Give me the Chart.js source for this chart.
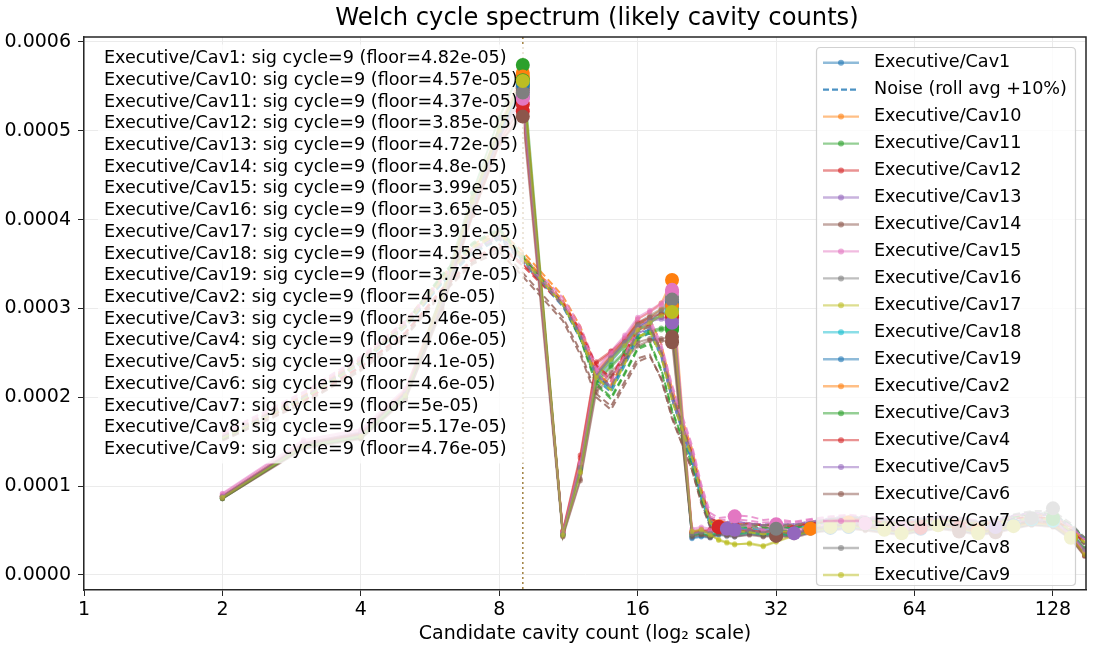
<!DOCTYPE html>
<html>
<head>
<meta charset="utf-8">
<script src="https://cdn.jsdelivr.net/npm/chart.js@4.4.0/dist/chart.umd.min.js"></script>
<style>
  html, body { margin: 0; padding: 0; background: #fff; }
</style>
</head>
<body>
<canvas id="mycanvas" width="1098" height="649"></canvas>
<script>
// candidate cavity counts (x) shared by every series
var cycles = [2,3,4,5,6,7,8,9, 11,12,13,14,15,16,17,18,19, 21,22,23,24,25,26, 28,30,32, 35,38,42,46,50, 55,60,66,72,80, 88,96,105,115,128, 140,150];
var xTicks = [1,2,4,8,16,32,64,128];
var yTicks = [0,0.0001,0.0002,0.0003,0.0004,0.0005,0.0006];

var names = ['Executive/Cav1','Executive/Cav10','Executive/Cav11','Executive/Cav12','Executive/Cav13','Executive/Cav14','Executive/Cav15','Executive/Cav16','Executive/Cav17','Executive/Cav18','Executive/Cav19','Executive/Cav2','Executive/Cav3','Executive/Cav4','Executive/Cav5','Executive/Cav6','Executive/Cav7','Executive/Cav8','Executive/Cav9'];
var sigCycle = 9;
var floors = ['4.82e-05','4.57e-05','4.37e-05','3.85e-05','4.72e-05','4.8e-05','3.99e-05','3.65e-05','3.91e-05','4.55e-05','3.77e-05','4.6e-05','5.46e-05','4.06e-05','4.1e-05','4.6e-05','5e-05','5.17e-05','4.76e-05'];

// spectrum power, units of 1e-5
var cav1  = [8.7,14.6,15.6,20.2,30.5,41.5,49.5,55.6, 4.5,11.8,22.0,24.0,25.8,27.6,28.4,29.2,30.5, 4.2,4.4,4.3,4.6,4.8,4.5, 4.9,4.6,4.8, 4.4,5.0,5.3,5.6,5.4, 5.1,4.8,5.2,5.7,5.3, 4.8,5.1,5.6,6.0,5.8, 4.3,2.4];
var cav10 = [8.9,14.9,16.0,20.8,31.5,42.5,50.5,56.5, 4.8,12.5,22.8,24.8,26.5,28.8,29.6,30.6,33.2, 4.9,5.1,4.8,5.5,5.2,5.0, 5.3,4.9,5.1, 4.7,5.3,5.6,5.9,5.7, 5.4,5.1,5.5,6.0,5.6, 5.1,5.4,5.9,6.3,6.1, 4.6,2.7];
var cav11 = [8.6,14.4,15.5,20.0,31.8,43.0,51.5,57.4, 4.6,12.0,21.8,23.6,25.2,26.8,27.5,27.8,27.9, 4.5,4.7,4.4,4.9,4.7,4.6, 5.0,4.7,4.6, 4.5,5.1,5.4,5.5,5.8, 5.2,4.9,5.3,5.8,5.4, 4.9,5.2,5.7,6.1,6.4, 4.8,2.9];
var cav12 = [8.8,14.7,15.9,20.6,30.2,40.5,48.5,52.2, 4.9,13.2,23.8,25.0,26.4,28.2,28.8,29.0,29.0, 4.7,4.9,5.0,5.4,5.0,4.8, 5.1,4.9,5.0, 4.6,5.0,5.5,5.7,5.4, 5.2,4.9,5.4,5.6,5.3, 4.7,5.0,5.5,5.9,5.7, 4.2,2.3];
var cav13 = [8.9,14.8,16.1,20.6,30.8,41.8,49.8,54.5, 4.7,12.3,22.6,24.6,26.2,28.0,28.6,29.0,28.7, 4.8,5.0,4.7,5.2,5.3,5.1, 5.2,4.9,5.3, 4.7,5.2,5.6,5.8,5.6, 5.3,5.0,5.5,5.8,5.5, 5.0,5.3,5.7,6.1,5.9, 4.4,2.6];
var cav14 = [8.6,14.3,15.4,19.8,30.0,41.0,49.2,54.8, 4.4,10.8,21.0,22.8,24.5,26.2,26.6,26.4,26.2, 4.4,4.6,4.3,4.7,4.5,4.4, 4.6,4.4,4.5, 4.3,4.8,5.1,5.3,5.1, 4.8,4.6,5.0,5.3,5.0, 4.6,4.8,5.3,5.7,5.5, 4.1,2.2];
var cav15 = [9.2,15.2,16.4,21.0,31.0,42.0,49.5,54.1, 4.8,12.6,23.2,25.2,27.0,29.0,29.8,30.6,32.1, 5.2,5.4,5.2,5.6,5.5,6.6, 5.2,5.2,5.7, 5.0,5.5,5.9,6.1,5.9, 5.6,5.3,5.7,6.1,5.8, 5.3,5.6,6.0,6.4,6.2, 4.7,2.8];
var cav16 = [8.8,14.6,15.8,20.4,30.6,41.6,49.8,55.0, 4.6,12.2,22.6,24.6,26.4,28.4,29.2,30.0,31.3, 4.7,4.9,4.8,5.1,5.0,4.9, 5.0,4.8,5.0, 4.6,5.1,5.5,5.8,5.6, 5.2,5.0,5.4,5.8,5.5, 5.0,5.3,5.8,6.2,6.0, 4.5,2.5];
var cav17 = [8.7,14.5,15.7,20.3,31.2,42.2,50.2,55.9, 4.6,11.5,22.4,24.4,26.0,27.8,28.6,29.4,29.8, 4.9,5.1,4.6,3.9,3.6,3.4, 3.6,3.3,3.8, 4.5,5.0,5.4,5.6,5.4, 5.1,4.8,5.2,5.6,5.3, 4.8,5.1,5.5,5.9,5.7, 4.3,2.4];
var cav18 = [8.7,14.5,15.6,20.2,30.4,41.4,49.6,55.3, 4.6,12.0,22.2,24.2,25.8,27.6,28.4,29.2,30.0, 4.4,4.6,4.5,4.8,4.7,4.6, 4.8,4.6,4.7, 4.5,5.1,5.5,5.7,5.9, 5.3,5.0,5.6,6.0,5.7, 5.2,5.5,5.9,6.3,6.1, 4.7,2.8];
var cav19 = [8.8,14.7,15.8,20.5,30.6,41.6,49.7,55.2, 4.6,12.1,22.4,24.4,26.0,27.8,28.6,29.6,30.6, 4.1,4.3,4.2,4.5,4.4,4.3, 4.6,4.4,4.5, 4.3,4.8,5.1,5.4,5.2, 4.9,4.6,5.0,5.4,5.1, 4.6,4.9,5.3,5.7,5.5, 4.1,2.3];
var cav2  = [8.9,14.8,15.9,20.7,31.0,42.0,50.0,56.1, 4.7,12.4,22.7,24.7,26.3,28.3,29.0,29.9,30.3, 4.8,5.0,4.9,5.2,5.1,4.9, 5.1,4.8,5.0, 4.6,5.2,5.5,5.8,5.6, 5.3,5.0,5.4,5.8,5.5, 5.0,5.3,5.8,6.2,6.0, 4.5,2.6];
var cav3  = [8.6,14.4,15.4,20.0,31.0,42.2,50.4,55.7, 4.5,11.9,21.6,23.4,25.0,26.6,27.3,27.6,27.6, 4.5,4.6,4.4,4.8,4.6,4.5, 4.8,4.5,4.7, 4.4,5.0,5.3,5.5,5.4, 5.1,4.8,5.2,5.6,5.3, 4.8,5.1,5.6,6.0,6.3, 4.9,3.0];
var cav4  = [8.8,14.7,15.9,20.5,30.4,40.8,48.8,53.0, 5.0,13.5,24.0,25.2,26.6,28.4,29.0,29.4,29.2, 4.8,5.0,5.1,5.4,5.1,4.9, 5.0,4.8,5.0, 4.6,5.0,5.4,5.6,5.4, 5.1,4.8,5.3,5.6,5.3, 4.8,5.0,5.5,5.9,5.7, 4.2,2.2];
var cav5  = [8.9,14.8,16.0,20.5,30.8,41.6,49.4,53.8, 4.7,12.4,22.6,24.6,26.2,28.0,28.6,28.8,28.4, 4.7,4.9,4.8,5.1,5.2,5.3, 5.0,4.8,5.0, 4.7,5.2,5.6,5.8,5.6, 5.3,5.0,5.5,5.9,5.6, 5.1,5.4,5.8,6.2,6.0, 4.6,2.7];
var cav6  = [8.6,14.2,15.3,19.7,29.8,40.5,48.6,51.6, 4.3,10.6,20.6,22.4,24.2,25.8,26.4,26.6,26.8, 4.3,4.5,4.2,4.6,4.4,4.3, 4.5,4.3,4.4, 4.2,4.7,5.0,5.2,5.0, 4.7,4.5,4.9,5.2,4.9, 4.5,4.7,5.2,5.6,5.4, 4.0,2.1];
var cav7  = [9.1,15.0,16.2,20.8,30.6,41.4,49.0,53.6, 4.8,12.6,23.0,25.0,26.8,28.8,29.6,30.4,31.8, 5.0,5.2,5.0,5.4,5.3,5.5, 5.6,5.0,5.5, 4.9,5.4,5.8,6.0,5.8, 5.5,5.2,5.6,6.0,5.7, 5.2,5.5,5.9,6.3,6.1, 4.6,2.7];
var cav8  = [8.8,14.6,15.7,20.4,30.4,41.2,49.2,54.3, 4.6,12.1,22.4,24.4,26.2,28.2,29.0,29.8,31.0, 4.6,4.8,4.7,5.0,4.9,4.8, 4.9,4.7,5.2, 4.6,5.1,5.5,5.8,5.6, 5.3,5.1,5.5,5.9,5.6, 5.2,5.5,6.0,6.4,7.5, 4.8,2.9];
var cav9  = [8.7,14.5,15.6,20.2,31.0,42.0,50.0,55.6, 4.5,11.6,22.2,24.2,25.8,27.6,28.4,29.2,29.6, 4.9,5.1,4.5,4.0,3.7,3.5, 3.5,3.2,3.7, 4.4,4.9,5.3,5.5,5.3, 5.0,4.7,5.1,5.5,5.2, 4.7,5.0,5.4,5.8,5.6, 4.2,2.3];

// noise floor (rolling avg +10%), units of 1e-5
var noise1  = [15.4,19.8,23.8,27.9,32.8,36.2,37.8,35.2, 30.2,26.6,22.0,20.6,23.6,26.6,27.2,24.6,19.8, 13.0,8.8,5.6,5.1,5.0,5.1, 5.3,5.2,5.3, 5.2,5.6,5.9,6.2,6.0, 5.8,5.7,6.0,6.2,5.9, 5.6,5.9,6.3,6.6,6.3, 5.0,3.7];
var noise10 = [15.7,20.2,24.4,28.6,33.6,37.2,38.8,36.4, 31.4,28.0,23.2,21.8,25.0,28.2,28.8,26.0,21.0, 14.2,9.8,6.4,5.8,5.8,5.8, 5.8,5.6,5.7, 5.6,6.0,6.3,6.6,6.4, 6.2,6.0,6.3,6.6,6.3, 5.9,6.2,6.6,6.9,6.7, 5.5,4.0];
var noise11 = [15.3,19.9,24.0,28.4,33.8,37.4,39.0,36.0, 30.6,26.8,21.6,20.0,22.8,25.6,26.2,23.2,18.6, 12.4,8.6,6.0,5.6,5.5,5.5, 5.6,5.4,5.3, 5.5,5.8,6.2,6.4,6.5, 6.1,5.9,6.2,6.4,6.2, 5.8,6.1,6.6,7.0,6.9, 5.6,4.1];
var noise12 = [15.5,19.6,23.4,27.2,32.0,35.4,37.0,34.8, 30.4,27.4,23.4,22.0,24.8,27.6,28.0,25.0,20.2, 13.6,9.2,6.4,5.9,5.8,5.7, 5.8,5.6,5.6, 5.5,5.8,6.2,6.3,6.2, 6.0,5.8,6.1,6.2,6.0, 5.7,5.9,6.3,6.6,6.3, 5.1,3.6];
var noise13 = [15.6,20.1,24.2,28.2,33.2,36.8,38.4,35.8, 30.8,27.2,22.6,21.4,24.4,27.4,28.0,25.0,20.0, 13.4,9.4,6.4,5.9,5.9,5.9, 5.8,5.7,5.8, 5.7,6.0,6.3,6.5,6.4, 6.2,6.0,6.3,6.5,6.3, 6.0,6.2,6.6,6.9,6.6, 5.4,4.0];
var noise14 = [15.2,19.4,23.2,27.0,31.8,35.2,36.8,34.0, 29.0,25.2,20.4,19.0,21.8,24.4,24.8,22.0,17.6, 11.8,8.2,5.6,5.2,5.1,5.1, 5.1,5.0,5.0, 5.0,5.3,5.7,5.9,5.7, 5.5,5.3,5.6,5.8,5.6, 5.3,5.5,5.9,6.3,6.0, 4.9,3.5];
var noise15 = [16.0,20.6,24.6,28.6,33.4,36.8,38.2,35.8, 31.2,28.0,23.6,22.2,25.2,28.2,28.8,26.0,21.4, 14.6,10.2,7.0,6.4,6.5,6.7, 6.6,6.2,6.3, 6.0,6.3,6.6,6.8,6.6, 6.4,6.1,6.4,6.7,6.5, 6.1,6.3,6.7,7.0,6.8, 5.6,4.1];
var noise16 = [15.5,20.0,24.0,28.0,33.0,36.6,38.2,35.6, 30.6,27.2,22.6,21.2,24.4,27.6,28.2,25.4,20.6, 13.8,9.4,6.2,5.7,5.7,5.6, 5.6,5.5,5.6, 5.5,5.8,6.2,6.4,6.3, 6.1,5.9,6.2,6.4,6.2, 5.9,6.1,6.6,6.9,6.6, 5.4,3.9];
var noise17 = [15.4,19.9,24.0,28.2,33.4,37.0,38.6,35.8, 30.6,26.8,22.2,20.8,23.8,26.8,27.4,24.6,19.8, 13.2,9.2,5.9,5.5,5.3,5.1, 4.9,4.7,4.9, 5.1,5.5,5.9,6.1,6.0, 5.8,5.6,5.9,6.1,5.9, 5.6,5.8,6.2,6.5,6.3, 5.1,3.7];
var noise18 = [15.4,19.8,23.8,27.9,32.8,36.4,38.0,35.4, 30.4,26.8,22.2,20.8,23.8,26.8,27.4,24.6,19.8, 12.8,8.6,5.6,5.2,5.2,5.2, 5.2,5.1,5.2, 5.3,5.8,6.2,6.5,6.5, 6.2,6.0,6.3,6.6,6.4, 6.0,6.3,6.7,7.0,6.8, 5.6,4.1];
var noise19 = [15.5,19.9,24.0,28.0,33.0,36.5,38.2,35.5, 30.5,27.0,22.4,21.0,24.0,27.0,27.7,25.0,20.2, 12.6,8.4,5.4,4.9,4.8,4.8, 5.0,4.9,5.0, 4.9,5.3,5.7,5.9,5.8, 5.5,5.3,5.6,5.9,5.6, 5.3,5.6,6.0,6.4,6.1, 4.9,3.5];
var noise2  = [15.6,20.1,24.2,28.3,33.3,36.9,38.5,36.0, 30.9,27.4,22.8,21.4,24.4,27.4,28.0,25.2,20.4, 13.6,9.4,6.2,5.7,5.7,5.7, 5.7,5.6,5.7, 5.6,5.9,6.2,6.4,6.3, 6.1,5.9,6.2,6.4,6.2, 5.9,6.1,6.6,6.9,6.6, 5.4,3.9];
var noise3  = [15.3,19.8,24.0,28.2,33.6,37.2,38.8,35.8, 30.4,26.6,21.4,19.8,22.6,25.4,26.0,23.0,18.4, 12.2,8.4,5.8,5.4,5.3,5.3, 5.4,5.3,5.3, 5.3,5.7,6.0,6.2,6.1, 5.9,5.7,6.0,6.2,6.0, 5.7,6.0,6.5,6.9,6.8, 5.6,4.2];
var noise4  = [15.5,19.6,23.5,27.3,32.2,35.6,37.2,35.0, 30.6,27.6,23.6,22.2,25.0,27.8,28.2,25.2,20.4, 13.6,9.4,6.4,5.9,5.9,5.8, 5.7,5.6,5.6, 5.5,5.8,6.1,6.3,6.2, 5.9,5.8,6.1,6.2,6.0, 5.6,5.9,6.3,6.6,6.3, 5.1,3.6];
var noise5  = [15.6,20.0,24.1,28.1,33.1,36.6,38.0,35.4, 30.4,27.0,22.6,21.2,24.2,27.2,27.8,24.8,19.8, 13.2,9.2,6.4,6.0,6.0,6.0, 5.8,5.6,5.7, 5.7,6.0,6.4,6.6,6.4, 6.2,6.0,6.3,6.6,6.3, 6.0,6.2,6.7,7.0,6.7, 5.5,4.0];
var noise6  = [15.1,19.3,23.0,26.8,31.6,35.0,36.4,33.6, 28.6,24.8,20.0,18.6,21.4,24.0,24.6,22.2,17.8, 11.8,8.0,5.4,5.0,4.9,4.9, 4.9,4.8,4.8, 4.8,5.2,5.5,5.7,5.6, 5.4,5.2,5.5,5.7,5.5, 5.2,5.4,5.8,6.1,5.9, 4.8,3.4];
var noise7  = [15.8,20.4,24.4,28.4,33.2,36.6,38.0,35.4, 30.8,27.6,23.2,21.8,24.8,27.8,28.4,25.6,21.0, 14.2,9.8,6.6,6.2,6.2,6.3, 6.1,5.9,6.0, 5.9,6.2,6.5,6.7,6.5, 6.3,6.1,6.4,6.6,6.4, 6.1,6.3,6.7,7.0,6.7, 5.5,4.0];
var noise8  = [15.5,19.9,24.0,28.0,33.0,36.4,37.9,35.3, 30.4,27.0,22.4,21.0,24.2,27.4,28.0,25.2,20.4, 13.4,9.2,6.1,5.6,5.6,5.6, 5.7,5.6,5.7, 5.6,5.9,6.3,6.5,6.4, 6.2,6.0,6.3,6.6,6.3, 6.0,6.3,6.8,7.2,7.2, 5.8,4.2];
var noise9  = [15.4,19.8,23.9,28.0,33.2,36.8,38.4,35.6, 30.4,26.8,22.2,20.8,23.8,26.8,27.4,24.6,19.6, 13.2,9.2,5.8,5.4,5.2,5.0, 4.8,4.6,4.8, 5.0,5.4,5.8,6.0,5.9, 5.7,5.5,5.8,6.0,5.8, 5.5,5.7,6.1,6.4,6.2, 5.0,3.6];

// cycles flagged as likely (big markers)
var sig1  = [9,19,42,66,105];
var sig10 = [9,19,24,46,88];
var sig11 = [9,19,50,128];
var sig12 = [9,19,24,80];
var sig13 = [9,19,26,72];
var sig14 = [9,19,32,96];
var sig15 = [9,19,26,32,60];
var sig16 = [9,19,32,115];
var sig17 = [9,19,42,55,72,105];
var sig18 = [9,19,115,128];
var sig19 = [9,19,46];
var sig2  = [9,19,38,88];
var sig3  = [9,19,128];
var sig4  = [9,19,24,66];
var sig5  = [9,19,25,35,96];
var sig6  = [9,19,32,80];
var sig7  = [9,19,32,50];
var sig8  = [9,19,32,115,128];
var sig9  = [9,19,46,60,88,140];

var spectra = [cav1,cav10,cav11,cav12,cav13,cav14,cav15,cav16,cav17,cav18,cav19,cav2,cav3,cav4,cav5,cav6,cav7,cav8,cav9];
var noises  = [noise1,noise10,noise11,noise12,noise13,noise14,noise15,noise16,noise17,noise18,noise19,noise2,noise3,noise4,noise5,noise6,noise7,noise8,noise9];
var sigs    = [sig1,sig10,sig11,sig12,sig13,sig14,sig15,sig16,sig17,sig18,sig19,sig2,sig3,sig4,sig5,sig6,sig7,sig8,sig9];
var UNIT = 1e-5;

var palette = ['#1f77b4','#ff7f0e','#2ca02c','#d62728','#9467bd','#8c564b','#e377c2','#7f7f7f','#bcbd22','#17becf'];
var FONT = "'DejaVu Sans', sans-serif";

function rgba(hex, a) {
    var n = parseInt(hex.slice(1), 16);
    return 'rgba(' + (n >> 16) + ',' + ((n >> 8) & 255) + ',' + (n & 255) + ',' + a + ')';
}

var datasets = [];
names.forEach(function (name, k) {
    var col = palette[k % 10];
    datasets.push({
        label: name,
        data: cycles.map(function (c, i) { return {x: c, y: spectra[k][i] * UNIT}; }),
        borderColor: rgba(col, 0.5),
        backgroundColor: rgba(col, 0.5),
        borderWidth: 2,
        pointRadius: 2.6,
        pointBorderWidth: 0,
        pointBackgroundColor: rgba(col, 0.55),
        tension: 0,
        order: 1000 - 2 * k
    });
    datasets.push({
        label: 'Noise (roll avg +10%)',
        isNoise: true,
        data: cycles.map(function (c, i) { return {x: c, y: noises[k][i] * UNIT}; }),
        borderColor: rgba(col, 0.75),
        borderDash: [7, 4],
        borderWidth: 2,
        pointRadius: 0,
        tension: 0,
        order: 999 - 2 * k
    });
});
names.forEach(function (name, k) {
    var col = palette[k % 10];
    datasets.push({
        label: name + ' likely',
        isSig: true,
        showLine: false,
        data: sigs[k].map(function (c) { return {x: c, y: spectra[k][cycles.indexOf(c)] * UNIT}; }),
        pointRadius: 7,
        pointBorderWidth: 0,
        pointBackgroundColor: col,
        backgroundColor: col,
        borderColor: col,
        order: 100 - k
    });
});

function drawBox(chart) {
    var ctx = chart.ctx, a = chart.chartArea;
    var px = chart.scales.x.getPixelForValue(sigCycle);
    ctx.save();
    ctx.beginPath();
    ctx.rect(a.left, a.top, a.right - a.left, a.bottom - a.top);
    ctx.clip();
    ctx.strokeStyle = 'rgba(150,115,45,0.85)';
    ctx.lineWidth = 1.6;
    ctx.setLineDash([2, 3]);
    ctx.beginPath();
    ctx.moveTo(px, a.top);
    ctx.lineTo(px, a.bottom);
    ctx.stroke();
    ctx.setLineDash([]);

    ctx.font = '17.6px ' + FONT;
    var lines = names.map(function (n, k) { return n + ': sig cycle=' + sigCycle + ' (floor=' + floors[k] + ')'; });
    var w = 0;
    lines.forEach(function (l) { w = Math.max(w, ctx.measureText(l).width); });
    var x0 = 104, y0 = 58.5, lh = 21.72;
    ctx.fillStyle = 'rgba(255,255,255,0.8)';
    ctx.fillRect(x0 - 6, y0 - 14, w + 12, lh * (lines.length - 1) + 28);
    ctx.fillStyle = '#000';
    ctx.textAlign = 'left';
    ctx.textBaseline = 'middle';
    lines.forEach(function (l, i) { ctx.fillText(l, x0, y0 + i * lh); });
    ctx.restore();
}

function drawLegend(chart) {
    var ctx = chart.ctx;
    var items = [{label: names[0], col: palette[0], noise: false},
                 {label: 'Noise (roll avg +10%)', col: palette[0], noise: true}];
    for (var k = 1; k < names.length; k++) items.push({label: names[k], col: palette[k % 10], noise: false});
    var bx = 816.5, by = 47.5, bw = 259, bh = 538, r = 4;
    ctx.save();
    ctx.beginPath();
    ctx.moveTo(bx + r, by);
    ctx.lineTo(bx + bw - r, by); ctx.quadraticCurveTo(bx + bw, by, bx + bw, by + r);
    ctx.lineTo(bx + bw, by + bh - r); ctx.quadraticCurveTo(bx + bw, by + bh, bx + bw - r, by + bh);
    ctx.lineTo(bx + r, by + bh); ctx.quadraticCurveTo(bx, by + bh, bx, by + bh - r);
    ctx.lineTo(bx, by + r); ctx.quadraticCurveTo(bx, by, bx + r, by);
    ctx.closePath();
    ctx.fillStyle = 'rgba(255,255,255,0.8)';
    ctx.fill();
    ctx.strokeStyle = 'rgba(204,204,204,0.9)';
    ctx.lineWidth = 1.2;
    ctx.stroke();
    ctx.font = '17.6px ' + FONT;
    ctx.textAlign = 'left';
    ctx.textBaseline = 'middle';
    items.forEach(function (it, i) {
        var y = 62.7 + i * 26.96;
        ctx.beginPath();
        ctx.moveTo(823, y); ctx.lineTo(859, y);
        if (it.noise) {
            ctx.setLineDash([6, 3]);
            ctx.strokeStyle = rgba(it.col, 0.8);
        } else {
            ctx.setLineDash([]);
            ctx.strokeStyle = rgba(it.col, 0.5);
        }
        ctx.lineWidth = 2.4;
        ctx.stroke();
        ctx.setLineDash([]);
        if (!it.noise) {
            ctx.beginPath();
            ctx.arc(841, y, 3, 0, Math.PI * 2);
            ctx.fillStyle = rgba(it.col, 0.6);
            ctx.fill();
        }
        ctx.fillStyle = '#000';
        ctx.fillText(it.label, 874, y);
    });
    ctx.restore();
}

var overlay = {
    id: 'overlay',
    beforeDatasetsDraw: function (chart) { chart.$boxDone = false; },
    beforeDatasetDraw: function (chart, args) {
        var ds = chart.data.datasets[args.index];
        if (ds.isSig && !chart.$boxDone) {
            chart.$boxDone = true;
            drawBox(chart);
        }
    },
    afterDraw: function (chart) {
        var ctx = chart.ctx, a = chart.chartArea;
        ctx.save();
        // top and right spines
        ctx.strokeStyle = '#262626';
        ctx.lineWidth = 1.5;
        ctx.beginPath();
        ctx.moveTo(a.left, a.top); ctx.lineTo(a.right, a.top); ctx.lineTo(a.right, a.bottom);
        ctx.stroke();
        ctx.fillStyle = '#000';
        ctx.textAlign = 'center';
        ctx.textBaseline = 'middle';
        ctx.font = '24.2px ' + FONT;
        ctx.fillText('Welch cycle spectrum (likely cavity counts)', 597, 19);
        ctx.font = '19px ' + FONT;
        ctx.fillText('Candidate cavity count (log\u2082 scale)', (a.left + a.right) / 2, 634);
        ctx.restore();
        drawLegend(chart);
    }
};

Chart.defaults.font.family = FONT;
var ctx = document.getElementById('mycanvas');
var chart = new Chart(ctx, {
    type: 'line',
    data: {datasets: datasets},
    options: {
        responsive: false,
        animation: false,
        devicePixelRatio: 1,
        layout: {padding: {top: 37, right: 12, left: 0, bottom: 0}},
        plugins: {legend: {display: false}, tooltip: {enabled: false}, title: {display: false}},
        scales: {
            x: {
                type: 'logarithmic',
                min: 1,
                max: 151,
                afterBuildTicks: function (s) { s.ticks = xTicks.map(function (v) { return {value: v}; }); },
                afterFit: function (s) { s.height = 59; },
                ticks: {
                    callback: function (v) { return String(v); },
                    font: {size: 19, family: FONT},
                    color: '#000',
                    maxRotation: 0,
                    autoSkip: false,
                    padding: 3
                },
                grid: {color: '#ebebeb', lineWidth: 1, tickColor: '#262626', tickLength: 6},
                border: {color: '#262626', width: 1.5}
            },
            y: {
                type: 'linear',
                min: -0.0000169,
                max: 0.0006056,
                afterBuildTicks: function (s) { s.ticks = yTicks.map(function (v) { return {value: v}; }); },
                afterFit: function (s) { s.width = 84; },
                ticks: {
                    callback: function (v) { return v.toFixed(4); },
                    font: {size: 19, family: FONT},
                    color: '#000',
                    padding: 7
                },
                grid: {color: '#ebebeb', lineWidth: 1, tickColor: '#262626', tickLength: 6},
                border: {color: '#262626', width: 1.5}
            }
        }
    },
    plugins: [overlay]
});
</script>
</body>
</html>
